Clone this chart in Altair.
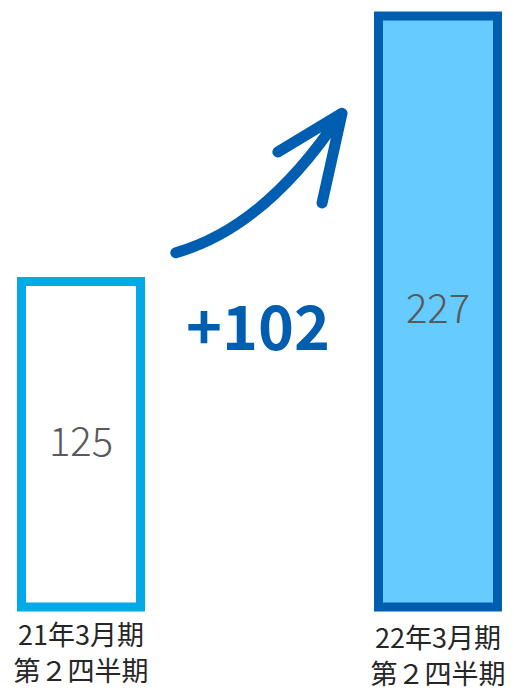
import altair as alt
import pandas as pd

periods = ["21年3月期", "22年3月期"]
sublabels = ["第２四半期", "第２四半期"]
values = [125, 227]
fills = ["#FFFFFF", "#66CCFF"]
strokes = ["#00A9E8", "#005EB0"]

df = pd.DataFrame({
    "period": periods,
    "value": values,
    "label": [p + "\n" + s for p, s in zip(periods, sublabels)],
})
delta_df = pd.DataFrame({"text": [f"+{values[1] - values[0]}"]})

FONT = "Noto Sans CJK JP"
x_enc = alt.X("period:N", scale=alt.Scale(type="point", domain=periods, range=[81, 438], padding=0), axis=None)
y_scale = alt.Scale(domain=[-31.9, 233.1], zero=False, nice=False)

bars = alt.Chart(df).mark_bar(width=119, strokeWidth=9).encode(
    x=x_enc,
    y=alt.Y("value:Q", scale=y_scale, axis=None),
    y2=alt.datum(0),
    fill=alt.Fill("period:N", scale=alt.Scale(domain=periods, range=fills), legend=None),
    stroke=alt.Stroke("period:N", scale=alt.Scale(domain=periods, range=strokes), legend=None),
)

value_text = alt.Chart(df).transform_calculate(mid="datum.value / 2").mark_text(
    font=FONT, fontSize=40, fontWeight=300, color="#595959", baseline="middle", align="center"
).encode(
    x=x_enc,
    y=alt.Y("mid:Q", scale=y_scale, axis=None),
    text="value:Q",
)

label_layers = []
for p, dy in zip(periods, [0, 3]):
    label_layers.append(
        alt.Chart(df).transform_filter(alt.datum.period == p).mark_text(
            font=FONT, fontSize=27, color="#262626", baseline="alphabetic", align="center",
            lineBreak="\n", lineHeight=35.5, dy=dy,
        ).encode(x=x_enc, y=alt.value(645), text="label:N")
    )

delta_text = alt.Chart(delta_df).mark_text(
    font=FONT, fontSize=61, fontWeight="bold", color="#005EB0", baseline="middle", align="center"
).encode(x=alt.value(258), y=alt.value(332), text="text:N")

arrow_path = (
    "M -0.99 0.82 Q 0.07 0.52 0.95 -0.81 "
    "M 0.21 -0.365 L 0.965 -0.82 L 0.73 0.235"
)
arrow = alt.Chart(delta_df).mark_point(
    shape=arrow_path, filled=False, stroke="#005EB0", strokeWidth=11,
    strokeCap="round", strokeJoin="round", opacity=1, size=28900,
).encode(x=alt.value(260), y=alt.value(183))

chart = alt.layer(bars, value_text, *label_layers, delta_text, arrow).properties(
    width=514, height=690, padding=0, autosize=alt.AutoSizeParams(type="none"),
    background="white",
).configure_view(stroke=None)

chart.save("out.html", embed_options={"renderer": "svg", "actions": False})
